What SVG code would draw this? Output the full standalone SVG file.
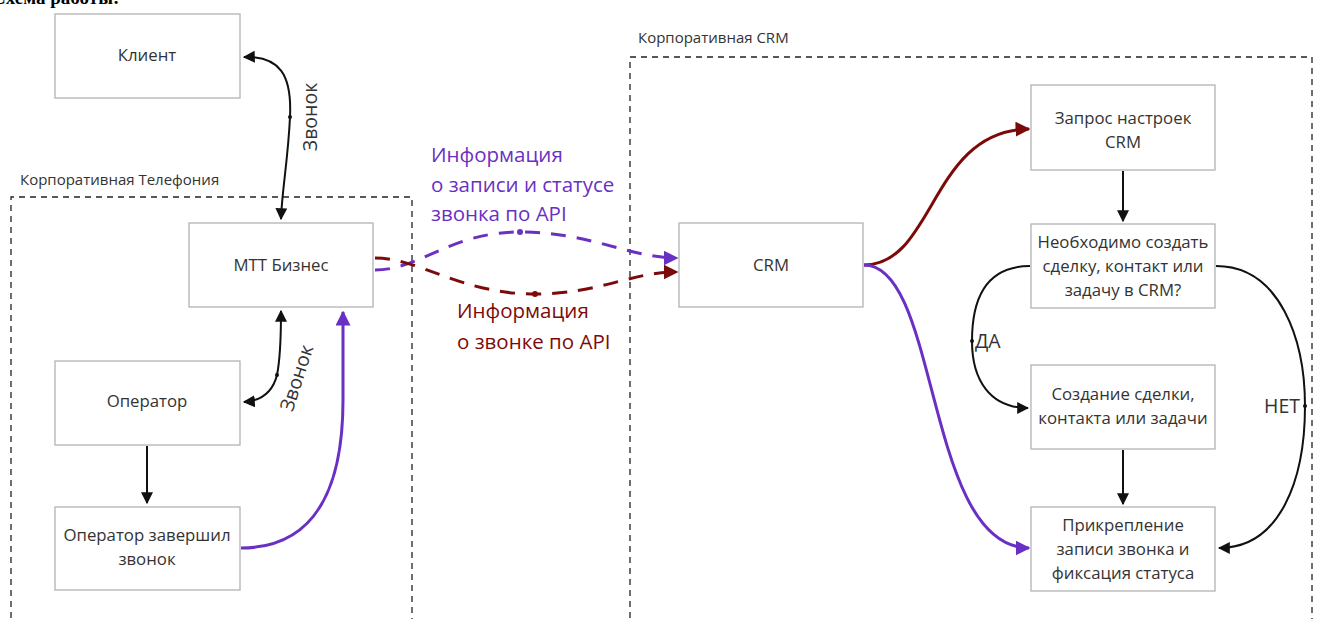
<svg xmlns="http://www.w3.org/2000/svg" width="1328" height="619" viewBox="0 0 1328 619">
<defs>
<style>
.box{fill:#fff;stroke:#b3b3b3;stroke-width:1.3}
.t{font-family:"Open Sans","Noto Sans",sans-serif;font-size:16.8px;fill:#333;text-anchor:middle}
.lab{font-family:"Open Sans","Noto Sans",sans-serif;font-size:15px;fill:#333}
.cont{fill:none;stroke:#222;stroke-width:1.3;stroke-dasharray:6,5}
.k{fill:none;stroke:#111;stroke-width:2}
.pu{fill:none;stroke:#6a30c4;stroke-width:3}
.rd{fill:none;stroke:#7d0a0a;stroke-width:3}
.dash{stroke-dasharray:15,11}
.el{font-family:"Open Sans","Noto Sans",sans-serif;font-size:19.5px;fill:#333}
.pl{font-family:"Open Sans","Noto Sans",sans-serif;font-size:20.5px;fill:#6a30c4}
.rl{font-family:"Open Sans","Noto Sans",sans-serif;font-size:20.5px;fill:#7d0a0a}
</style>
<marker id="ak" viewBox="0 0 10 10" refX="9" refY="5" markerWidth="6" markerHeight="6" orient="auto-start-reverse" markerUnits="strokeWidth"><path d="M0,0 L10,5 L0,10 z" fill="#111"/></marker>
<marker id="ap" viewBox="0 0 10 10" refX="9" refY="5" markerWidth="5" markerHeight="5" orient="auto" markerUnits="strokeWidth"><path d="M0,0 L10,5 L0,10 z" fill="#6a30c4"/></marker>
<marker id="ar" viewBox="0 0 10 10" refX="9" refY="5" markerWidth="5" markerHeight="5" orient="auto" markerUnits="strokeWidth"><path d="M0,0 L10,5 L0,10 z" fill="#7d0a0a"/></marker>
</defs>
<rect width="1328" height="619" fill="#fff"/>
<text x="-8" y="4" font-family="Liberation Serif,serif" font-size="19" font-weight="bold" fill="#000">Схема работы:</text>

<g id="containers">
<text class="lab" x="20" y="185">Корпоративная Телефония</text>
<path class="cont" d="M11,640 L11,197 L412,197 L412,640"/>
<text class="lab" x="638" y="43">Корпоративная CRM</text>
<path class="cont" d="M630,640 L630,57 L1312,57 L1312,640"/>
</g>

<g id="connectors">
<path class="k" d="M244,57 C280,56 292,75 290,117 C288,160 282,190 281,219" marker-start="url(#ak)" marker-end="url(#ak)"/>
<circle cx="290" cy="117" r="2" fill="#111"/>
<path class="k" d="M281,311 C281,340 280,360 277,375 C272,395 258,401 244,402" marker-start="url(#ak)" marker-end="url(#ak)"/>
<circle cx="277" cy="375" r="2" fill="#111"/>
<path class="k" d="M147,446 L147,503" marker-end="url(#ak)"/>
<path class="pu" d="M241,548 C320,548 343,480 343,400 L343,312" marker-end="url(#ap)"/>
<path class="pu dash" d="M375,270 C420,270 450,232 520,232 C590,232 630,258 677,258" marker-end="url(#ap)"/>
<circle cx="520" cy="232" r="3" fill="#6a30c4"/>
<path class="rd dash" d="M375,258 C420,258 460,294 535,294 C600,294 630,272 677,272" marker-end="url(#ar)"/>
<circle cx="535" cy="294" r="3" fill="#7d0a0a"/>
<path class="rd" d="M864,265 C935,265 930,130 1029,129" marker-end="url(#ar)"/>
<path class="pu" d="M864,265 C940,265 925,548 1029,548" marker-end="url(#ap)"/>
<path class="k" d="M1123,171 L1123,221" marker-end="url(#ak)"/>
<path class="k" d="M1030,266 C985,266 972,300 972,341 C972,380 990,408 1028,408" marker-end="url(#ak)"/>
<circle cx="972" cy="341" r="2" fill="#111"/>
<path class="k" d="M1123,450 L1123,504" marker-end="url(#ak)"/>
<path class="k" d="M1216,266 C1280,266 1305,340 1305,406 C1305,480 1280,548 1219,548" marker-end="url(#ak)"/>
<circle cx="1305" cy="406" r="2" fill="#111"/>
<text class="el" transform="translate(317,117) rotate(-90)" text-anchor="middle">Звонок</text>
<text class="el" transform="translate(303,380) rotate(-72)" text-anchor="middle">Звонок</text>
<text class="el" x="975" y="348">ДА</text>
<text class="el" x="1300" y="413" text-anchor="end">НЕТ</text>
<text class="pl"><tspan x="431" y="162">Информация</tspan><tspan x="431" y="192">о записи и статусе</tspan><tspan x="431" y="221">звонка по API</tspan></text>
<text class="rl"><tspan x="457" y="318">Информация</tspan><tspan x="457" y="349">о звонке по API</tspan></text>
</g>

<g id="client"><rect class="box" x="55" y="14" width="185" height="84"/><text class="t" x="147" y="61">Клиент</text></g>
<g id="mtt"><rect class="box" x="189" y="223" width="184" height="84"/><text class="t" x="281" y="271">МТТ Бизнес</text></g>
<g id="operator"><rect class="box" x="55" y="361" width="185" height="84"/><text class="t" x="147" y="407">Оператор</text></g>
<g id="operator-done"><rect class="box" x="55" y="507" width="185" height="83"/><text class="t"><tspan x="147" y="541">Оператор завершил</tspan><tspan x="147" y="565">звонок</tspan></text></g>
<g id="crm"><rect class="box" x="679" y="223" width="184" height="84"/><text class="t" x="771" y="271">CRM</text></g>
<g id="settings"><rect class="box" x="1031" y="85" width="184" height="85"/><text class="t"><tspan x="1123" y="124">Запрос настроек</tspan><tspan x="1123" y="148">CRM</tspan></text></g>
<g id="decision"><rect class="box" x="1031" y="224" width="184" height="84"/><text class="t"><tspan x="1123" y="248">Необходимо создать</tspan><tspan x="1123" y="272">сделку, контакт или</tspan><tspan x="1123" y="296">задачу в CRM?</tspan></text></g>
<g id="create"><rect class="box" x="1031" y="365" width="184" height="84"/><text class="t"><tspan x="1123" y="400">Создание сделки,</tspan><tspan x="1123" y="424">контакта или задачи</tspan></text></g>
<g id="attach"><rect class="box" x="1031" y="507" width="184" height="84"/><text class="t"><tspan x="1123" y="531">Прикрепление</tspan><tspan x="1123" y="555">записи звонка и</tspan><tspan x="1123" y="579">фиксация статуса</tspan></text></g>
</svg>
